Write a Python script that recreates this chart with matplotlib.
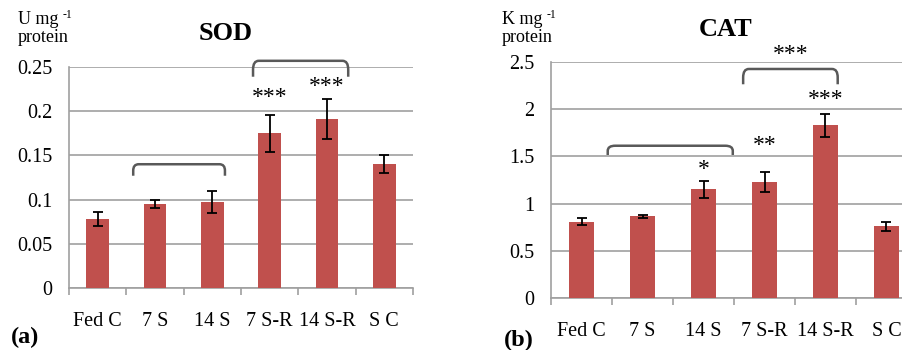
import numpy as np
import matplotlib
matplotlib.use('Agg')
import matplotlib.pyplot as plt
from matplotlib.path import Path
from matplotlib.patches import PathPatch

plt.rcParams['font.family'] = ['Liberation Serif', 'DejaVu Serif']

groups = ['Fed C', '7 S', '14 S', '7 S-R', '14 S-R', 'S C']

sod = [0.078, 0.095, 0.097, 0.175, 0.191, 0.140]
sod_err = [0.0075, 0.0045, 0.0125, 0.021, 0.023, 0.010]
sod_ticks = [0, 0.05, 0.1, 0.15, 0.2, 0.25]
sod_ticklabels = ['0', '0.05', '0.1', '0.15', '0.2', '0.25']

cat = [0.81, 0.865, 1.15, 1.23, 1.83, 0.76]
cat_err = [0.037, 0.018, 0.09, 0.107, 0.12, 0.05]
cat_ticks = [0, 0.5, 1, 1.5, 2, 2.5]
cat_ticklabels = ['0', '0.5', '1', '1.5', '2', '2.5']

# significance marks: (x, y, text)
sod_stars = [(3, 0.216, '***'), (4, 0.228, '***')]
cat_stars = [(2, 1.36, '*'), (3, 1.62, '**'), (4, 2.10, '***'), (3.43, 2.58, '***')]
# brackets: (x0, x1, y_end, y_top)
sod_brackets = [(0.62, 2.22, 0.127, 0.140), (2.71, 4.37, 0.239, 0.257)]
cat_brackets = [(0.43, 2.48, 1.515, 1.613), (2.65, 4.20, 2.264, 2.426)]

BAR = '#C0504D'
GRID = '#A0A0A0'


def bracket(ax, x0, x1, y0, y1):
    rx = (x1 - x0) * 0.06
    ry = (y1 - y0) * 0.55
    verts = [(x0, y0), (x0, y1 - ry), (x0, y1), (x0 + rx, y1),
             (x1 - rx, y1), (x1, y1), (x1, y1 - ry), (x1, y0)]
    codes = [Path.MOVETO, Path.LINETO, Path.CURVE3, Path.CURVE3,
             Path.LINETO, Path.CURVE3, Path.CURVE3, Path.LINETO]
    ax.add_patch(PathPatch(Path(verts, codes), fill=False, ec='#595959',
                           lw=1.8, clip_on=False))


def panel(ax, vals, errs, ticks, ticklabels, stars, brackets):
    x = np.arange(len(groups))
    ax.bar(x, vals, width=0.4, color=BAR, zorder=3)
    ax.errorbar(x, vals, yerr=errs, fmt='none', ecolor='black', elinewidth=1.3,
                capsize=3.5, capthick=1.3, zorder=4)
    ax.set_xlim(-0.5, len(groups) - 0.5)
    ax.set_ylim(ticks[0], ticks[-1])
    ax.set_yticks(ticks)
    ax.set_yticklabels(ticklabels, fontsize=14.5)
    ax.yaxis.grid(True, color=GRID, lw=1.2, zorder=0)
    ax.set_axisbelow(True)
    ax.set_xticks(x)
    ax.set_xticklabels(groups, fontsize=14.5)
    ax.set_xticks(np.arange(len(groups) + 1) - 0.5, minor=True)
    ax.tick_params(axis='x', which='major', length=0, pad=17)
    ax.tick_params(axis='x', which='minor', length=5, color=GRID, width=1.2)
    ax.tick_params(axis='y', length=0, pad=12)
    for s in ['top', 'right']:
        ax.spines[s].set_visible(False)
    for s in ['left', 'bottom']:
        ax.spines[s].set_color(GRID)
        ax.spines[s].set_linewidth(1.2)
    for sx, sy, t in stars:
        ax.text(sx, sy, t, ha='center', va='center', fontsize=17)
    for b in brackets:
        bracket(ax, *b)


fig = plt.figure(figsize=(9.03, 3.5), dpi=100)
ax1 = fig.add_axes([69 / 903, 1 - 288 / 350, 344 / 903, 221 / 350])
ax2 = fig.add_axes([551 / 903, 1 - 298 / 350, 366 / 903, 236 / 350])

panel(ax1, sod, sod_err, sod_ticks, sod_ticklabels, sod_stars, sod_brackets)
panel(ax2, cat, cat_err, cat_ticks, cat_ticklabels, cat_stars, cat_brackets)

fig.text(226 / 903, 1 - 34 / 350, 'SOD', ha='center', va='center',
         fontsize=19, fontweight='bold')
fig.text(726 / 903, 1 - 30 / 350, 'CAT', ha='center', va='center',
         fontsize=19, fontweight='bold')

# unit labels
for x0, unit in [(18, 'U mg'), (502, 'K mg')]:
    t = fig.text(x0 / 903, 1 - 20 / 350, unit, ha='left', va='center', fontsize=13)
    fig.canvas.draw()
    bb = t.get_window_extent()
    fig.text((bb.x1 + 4) / 903, 1 - 15 / 350, '-1', ha='left', va='center',
             fontsize=8.5)
    fig.text(x0 / 903, 1 - 38 / 350, 'protein', ha='left', va='center', fontsize=13)

fig.text(25 / 903, 1 - 337 / 350, '(a)', ha='center', va='center',
         fontsize=17.5, fontweight='bold')
fig.text(519 / 903, 1 - 340 / 350, '(b)', ha='center', va='center',
         fontsize=17.5, fontweight='bold')

fig.savefig('out.png', dpi=100)
